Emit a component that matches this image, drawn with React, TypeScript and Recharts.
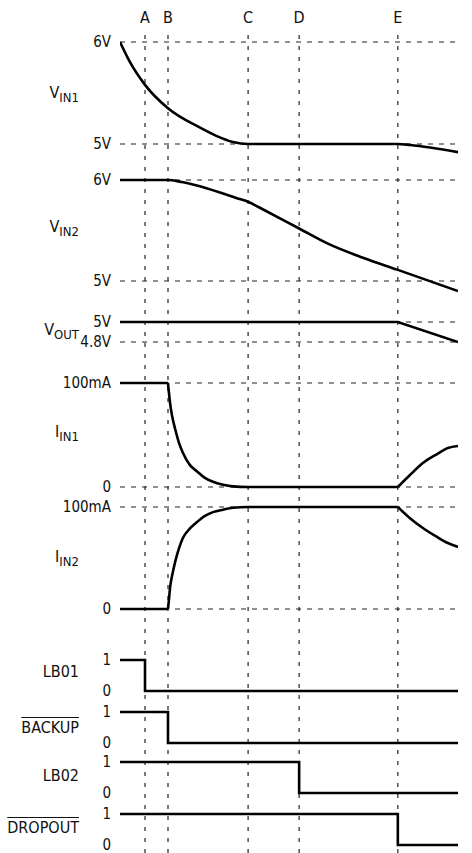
import { ComposedChart, Line, XAxis, YAxis, ReferenceLine } from 'recharts';

const FONT = "'Liberation Sans Narrow', 'DejaVu Sans Condensed', 'Roboto', sans-serif";

// event markers along the time axis
const eventNames = ['A', 'B', 'C', 'D', 'E'];
const eventTimes = [7.4, 14.2, 37.9, 53.0, 82.2];

// traces as [time, value], split where the waveform has a corner
const vin1 = [[0, 6], [3, 5.8], [7.4, 5.58], [14.2, 5.35], [23.7, 5.16], [28.5, 5.08], [33.4, 5.02], [37.9, 5], [82.2, 5], [85.8, 4.99], [100, 4.92]];
const vin2 = [[0, 6], [14.2, 6], [18.3, 5.98], [34.6, 5.82], [38.2, 5.78], [41.1, 5.73], [53, 5.52], [61.5, 5.37], [71.9, 5.23], [82.2, 5.11], [100, 4.9]];
const vout = [[0, 5], [82.2, 5], [100, 4.8]];
const iin1Hold = [[0, 100], [14.2, 100]];
const iin1Fall = [[14.2, 100], [14.5, 90], [14.8, 81], [15.5, 67], [16.3, 56], [17.4, 43], [18.6, 33], [20.7, 21], [22.8, 15], [25, 9], [27.5, 5], [30.5, 2.2], [33.4, 0.6], [37.9, 0], [82.2, 0]];
const iin1Rise = [[82.2, 0], [85.8, 11.5], [89.6, 23], [93.8, 31.7], [97, 37.5], [100, 39.4]];
const iin2Hold = [[0, 0], [14.2, 0]];
const iin2Rise = [[14.2, 0], [14.5, 10], [14.8, 20.6], [15.5, 34], [16.3, 46], [17.4, 59], [18.6, 69.6], [20.7, 79], [22.8, 85.3], [25, 91], [27.5, 95], [30.5, 97.4], [33.4, 99.2], [37.9, 100], [82.2, 100]];
const iin2Fall = [[82.2, 100], [85.8, 89], [89.6, 79.4], [93.8, 70.6], [97, 64.7], [100, 60.8]];
const lb01 = [[0, 1], [7.4, 0], [100, 0]];
const backup = [[0, 1], [14.2, 0], [100, 0]];
const lb02 = [[0, 1], [53, 0], [100, 0]];
const dropout = [[0, 1], [82.2, 0], [100, 0]];

// tick values and their labels, low then high
const vin1Ticks = [5, 6];
const vin1TickLabels = ['5V', '6V'];
const vin2Ticks = [5, 6];
const vin2TickLabels = ['5V', '6V'];
const voutTicks = [4.8, 5];
const voutTickLabels = ['4.8V', '5V'];
const iinTicks = [0, 100];
const iinTickLabels = ['0', '100mA'];
const logicTicks = [0, 1];
const logicTickLabels = ['0', '1'];

const W = 472;
const H = 853;
const TOP = 28;
const LEFT = 120;
const RIGHT = 14;

// pixel rows for each trace (where hi and lo tick sit)
const rows = [
  { id: 'vin1', hiY: 42, loY: 144, parts: [vin1], ticks: vin1Ticks, labels: vin1TickLabels, curve: 'monotone', grid: true },
  { id: 'vin2', hiY: 180, loY: 281, parts: [vin2], ticks: vin2Ticks, labels: vin2TickLabels, curve: 'monotone', grid: true },
  { id: 'vout', hiY: 322, loY: 342, parts: [vout], ticks: voutTicks, labels: voutTickLabels, curve: 'linear', grid: true },
  { id: 'iin1', hiY: 383, loY: 487, parts: [iin1Hold, iin1Fall, iin1Rise], ticks: iinTicks, labels: iinTickLabels, curve: 'monotone', grid: true },
  { id: 'iin2', hiY: 507, loY: 609, parts: [iin2Hold, iin2Rise, iin2Fall], ticks: iinTicks, labels: iinTickLabels, curve: 'monotone', grid: true },
  { id: 'lb01', hiY: 660, loY: 691, parts: [lb01], ticks: logicTicks, labels: logicTickLabels, curve: 'stepAfter', grid: false },
  { id: 'backup', hiY: 712, loY: 743, parts: [backup], ticks: logicTicks, labels: logicTickLabels, curve: 'stepAfter', grid: false },
  { id: 'lb02', hiY: 762, loY: 793, parts: [lb02], ticks: logicTicks, labels: logicTickLabels, curve: 'stepAfter', grid: false },
  { id: 'dropout', hiY: 814, loY: 845, parts: [dropout], ticks: logicTicks, labels: logicTickLabels, curve: 'stepAfter', grid: false },
];

// map a row's tick span onto the shared plot height
function domainFor(hiY: number, loY: number, lo: number, hi: number): [number, number] {
  const per = (hi - lo) / (loY - hiY);
  return [lo - (H - loY) * per, hi + (hiY - TOP) * per];
}

const toPoints = (arr: number[][]) => arr.map(([t, v]) => ({ t, v }));

const sideLabels = [
  { main: 'V', sub: 'IN1', y: 93 },
  { main: 'V', sub: 'IN2', y: 227 },
  { main: 'V', sub: 'OUT', y: 330 },
  { main: 'I', sub: 'IN1', y: 432 },
  { main: 'I', sub: 'IN2', y: 557 },
  { main: 'LB01', sub: '', y: 672 },
  { main: 'BACKUP', sub: '', y: 728, bar: true },
  { main: 'LB02', sub: '', y: 776 },
  { main: 'DROPOUT', sub: '', y: 828, bar: true },
];

export default function App() {
  return (
    <div style={{ position: 'absolute', left: 0, top: 0, width: W, height: H, fontFamily: FONT, background: '#fff' }}>
      <ComposedChart width={W} height={H} margin={{ top: TOP, right: RIGHT, bottom: 0, left: LEFT }}>
        <XAxis dataKey="t" type="number" domain={[0, 100]} allowDataOverflow hide />
        {rows.map((r) => (
          <YAxis
            key={r.id}
            yAxisId={r.id}
            type="number"
            domain={domainFor(r.hiY, r.loY, r.ticks[0], r.ticks[1])}
            allowDataOverflow
            hide
          />
        ))}
        {rows.flatMap((r) =>
          r.ticks.map((v, i) => (
            <ReferenceLine
              key={r.id + v}
              yAxisId={r.id}
              y={v}
              stroke={r.grid ? '#222' : 'none'}
              strokeWidth={1.2}
              strokeDasharray="5 6"
              label={{ value: r.labels[i], position: 'left', offset: 9, fill: '#111', fontSize: 15, fontFamily: FONT }}
            />
          ))
        )}
        {eventTimes.map((t, i) => (
          <ReferenceLine
            key={eventNames[i]}
            yAxisId="vin1"
            x={t}
            stroke="#222"
            strokeWidth={1.2}
            strokeDasharray="4 7"
            label={{ value: eventNames[i], position: 'top', fill: '#111', fontSize: 16, fontFamily: FONT }}
          />
        ))}
        {rows.flatMap((r) =>
          r.parts.map((part, j) => (
            <Line
              key={r.id + j}
              yAxisId={r.id}
              data={toPoints(part)}
              dataKey="v"
              type={r.curve as any}
              stroke="#000"
              strokeWidth={2.6}
              dot={false}
              activeDot={false}
              isAnimationActive={false}
            />
          ))
        )}
      </ComposedChart>
      {sideLabels.map((l) => (
        <div
          key={l.main + l.sub}
          style={{
            position: 'absolute',
            right: W - 79,
            top: l.y - 10,
            lineHeight: '20px',
            fontSize: 16,
            color: '#111',
            whiteSpace: 'nowrap',
            textDecoration: l.bar ? 'overline' : 'none',
          }}
        >
          {l.main}
          {l.sub && <span style={{ fontSize: 13, position: 'relative', top: 4 }}>{l.sub}</span>}
        </div>
      ))}
    </div>
  );
}
